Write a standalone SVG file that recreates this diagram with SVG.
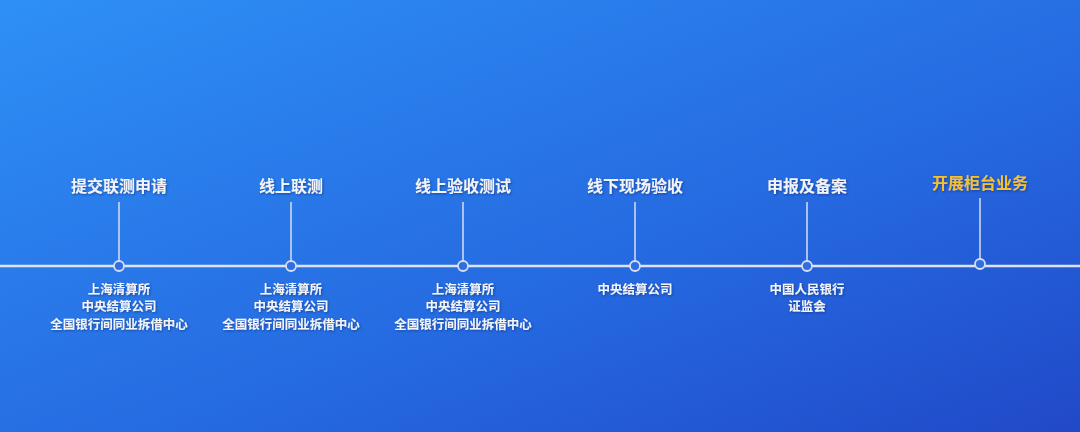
<svg xmlns="http://www.w3.org/2000/svg" width="1080" height="432" viewBox="0 0 1080 432">
<defs>
<linearGradient id="bg" x1="0" y1="0" x2="1" y2="1">
<stop offset="0" stop-color="#2e90f6"/>
<stop offset="0.6" stop-color="#2569e0"/>
<stop offset="1" stop-color="#2149c8"/>
</linearGradient>
<filter id="sh" x="-10%" y="-30%" width="120%" height="160%"><feDropShadow dx="1" dy="1" stdDeviation="1" flood-color="#0a2a70" flood-opacity="0.6"/></filter>
</defs>
<style>
.t{font-family:"Noto Sans CJK SC",sans-serif;font-weight:bold;font-size:16px;fill:#f2f4fa;text-anchor:middle;filter:url(#sh)}
.g{fill:#f5c12e}
.s{font-family:"Noto Sans CJK SC",sans-serif;font-weight:bold;font-size:12.5px;fill:#f2f4fa;text-anchor:middle;filter:url(#sh)}
.v{stroke:#d8def0;stroke-width:1.5}
.c{fill:#2f6fe0;stroke:#d8def0;stroke-width:1.8}
</style>
<rect width="1080" height="432" fill="url(#bg)"/>
<g id="connectors">
<line x1="0" y1="266" x2="1080" y2="266" stroke="#dde3f3" stroke-width="2.5"/>
<line class="v" x1="119" y1="202" x2="119" y2="261"/>
<line class="v" x1="291" y1="202" x2="291" y2="261"/>
<line class="v" x1="463" y1="202" x2="463" y2="261"/>
<line class="v" x1="635" y1="202" x2="635" y2="261"/>
<line class="v" x1="807" y1="202" x2="807" y2="261"/>
<line class="v" x1="980" y1="198" x2="980" y2="259"/>
</g>
<g id="n1"><circle class="c" cx="119" cy="266" r="5"/><text class="t" x="119" y="192">提交联测申请</text><text class="s" x="119" y="294">上海清算所</text><text class="s" x="119" y="311">中央结算公司</text><text class="s" x="119" y="329">全国银行间同业拆借中心</text></g>
<g id="n2"><circle class="c" cx="291" cy="266" r="5"/><text class="t" x="291" y="192">线上联测</text><text class="s" x="291" y="294">上海清算所</text><text class="s" x="291" y="311">中央结算公司</text><text class="s" x="291" y="329">全国银行间同业拆借中心</text></g>
<g id="n3"><circle class="c" cx="463" cy="266" r="5"/><text class="t" x="463" y="192">线上验收测试</text><text class="s" x="463" y="294">上海清算所</text><text class="s" x="463" y="311">中央结算公司</text><text class="s" x="463" y="329">全国银行间同业拆借中心</text></g>
<g id="n4"><circle class="c" cx="635" cy="266" r="5"/><text class="t" x="635" y="192">线下现场验收</text><text class="s" x="635" y="294">中央结算公司</text></g>
<g id="n5"><circle class="c" cx="807" cy="266" r="5"/><text class="t" x="807" y="192">申报及备案</text><text class="s" x="807" y="294">中国人民银行</text><text class="s" x="807" y="311">证监会</text></g>
<g id="n6"><circle class="c" cx="980" cy="264" r="5"/><text class="t g" x="980" y="189">开展柜台业务</text></g>
</svg>
